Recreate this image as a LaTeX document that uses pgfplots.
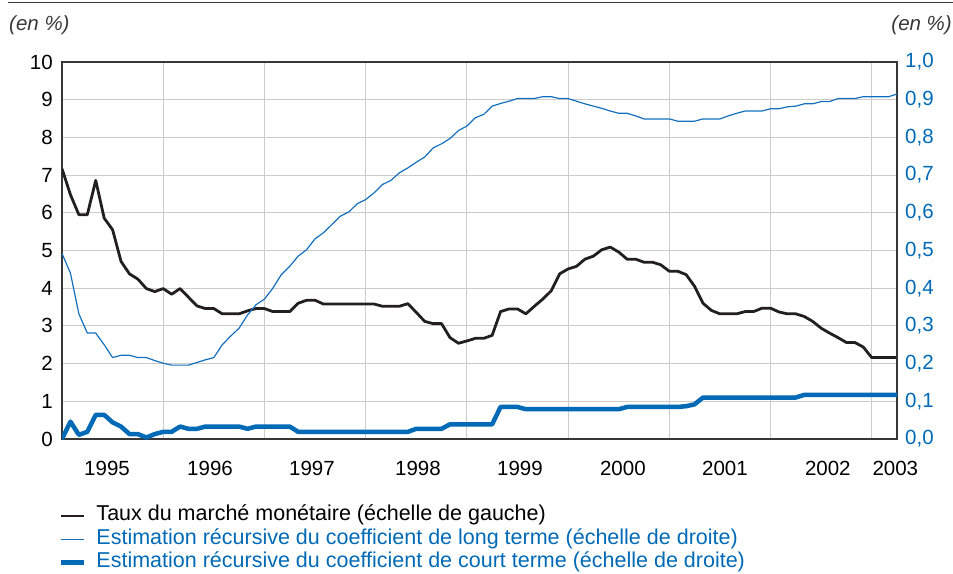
\documentclass[border=0pt]{standalone}
\usepackage{fontspec}
\setmainfont{Liberation Sans}
\usepackage{pgfplots}
\usepackage{pgfplotstable}
\pgfplotsset{compat=1.18}
\definecolor{cblack}{RGB}{35,31,32}
\definecolor{cblue}{RGB}{0,106,182}
\definecolor{cbluethin}{RGB}{20,112,188}
\definecolor{cgrid}{RGB}{204,204,204}
\definecolor{cframe}{RGB}{55,55,55}

\pgfplotstableread{
m v
0 7.17
1 6.48
2 5.95
3 5.95
4 6.86
5 5.86
6 5.55
7 4.71
8 4.38
9 4.24
10 3.99
11 3.91
12 3.99
13 3.84
14 3.99
15 3.76
16 3.53
17 3.46
18 3.46
19 3.32
20 3.32
21 3.32
22 3.40
23 3.46
24 3.46
25 3.38
26 3.38
27 3.38
28 3.60
29 3.68
30 3.68
31 3.58
32 3.58
33 3.58
34 3.58
35 3.58
36 3.58
37 3.58
38 3.52
39 3.52
40 3.52
41 3.59
42 3.36
43 3.12
44 3.06
45 3.06
46 2.69
47 2.54
48 2.60
49 2.67
50 2.67
51 2.75
52 3.38
53 3.45
54 3.45
55 3.32
56 3.52
57 3.71
58 3.93
59 4.38
60 4.51
61 4.58
62 4.77
63 4.85
64 5.02
65 5.09
66 4.96
67 4.77
68 4.77
69 4.69
70 4.69
71 4.62
72 4.45
73 4.45
74 4.36
75 4.05
76 3.60
77 3.41
78 3.32
79 3.32
80 3.32
81 3.38
82 3.38
83 3.47
84 3.47
85 3.37
86 3.32
87 3.32
88 3.25
89 3.12
90 2.94
91 2.81
92 2.69
93 2.56
94 2.56
95 2.44
96 2.16
97 2.16
98 2.16
99 2.16
}\taux

\pgfplotstableread{
m v
0 .492
1 .440
2 .332
3 .281
4 .281
5 .250
6 .216
7 .222
8 .222
9 .216
10 .216
11 .208
12 .201
13 .196
14 .196
15 .196
16 .203
17 .210
18 .216
19 .250
20 .273
21 .294
22 .329
23 .356
24 .371
25 .400
26 .436
27 .458
28 .485
29 .502
30 .531
31 .547
32 .569
33 .591
34 .602
35 .624
36 .635
37 .653
38 .675
39 .686
40 .706
41 .719
42 .734
43 .748
44 .772
45 .783
46 .797
47 .818
48 .830
49 .852
50 .861
51 .883
52 .890
53 .896
54 .903
55 .903
56 .903
57 .908
58 .908
59 .903
60 .903
61 .896
62 .889
63 .883
64 .877
65 .870
66 .864
67 .864
68 .857
69 .849
70 .849
71 .849
72 .849
73 .843
74 .843
75 .843
76 .849
77 .849
78 .849
79 .857
80 .864
81 .870
82 .870
83 .870
84 .876
85 .876
86 .881
87 .883
88 .889
89 .889
90 .895
91 .895
92 .903
93 .903
94 .903
95 .908
96 .908
97 .908
98 .908
99 .915
}\longterme

\pgfplotstableread{
m v
0 0.0
1 .046
2 .011
3 .019
4 .064
5 .064
6 .044
7 .033
8 .013
9 .013
10 .004
11 .013
12 .019
13 .019
14 .033
15 .027
16 .027
17 .033
18 .033
19 .033
20 .033
21 .033
22 .027
23 .033
24 .033
25 .033
26 .033
27 .033
28 .019
29 .019
30 .019
31 .019
32 .019
33 .019
34 .019
35 .019
36 .019
37 .019
38 .019
39 .019
40 .019
41 .019
42 .027
43 .027
44 .027
45 .027
46 .039
47 .039
48 .039
49 .039
50 .039
51 .039
52 .085
53 .085
54 .085
55 .079
56 .079
57 .079
58 .079
59 .079
60 .079
61 .079
62 .079
63 .079
64 .079
65 .079
66 .079
67 .085
68 .085
69 .085
70 .085
71 .085
72 .085
73 .085
74 .087
75 .092
76 .110
77 .110
78 .110
79 .110
80 .110
81 .110
82 .110
83 .110
84 .110
85 .110
86 .110
87 .110
88 .117
89 .117
90 .117
91 .117
92 .117
93 .117
94 .117
95 .117
96 .117
97 .117
98 .117
99 .117
}\courtterme

\begin{document}
\fontsize{20.5}{24}\selectfont
\begin{tikzpicture}
\useasboundingbox (0pt,0pt) rectangle (953pt,573pt);
\draw[line width=1pt, cframe] (8pt,570.5pt) -- (953pt,570.5pt);
\node[anchor=west, inner sep=0pt, font=\fontsize{20.5}{24}\selectfont\itshape, text=cframe] at (9pt,548pt) {(en \%)};
\node[anchor=east, inner sep=0pt, font=\fontsize{20.5}{24}\selectfont\itshape, text=cframe] at (952pt,548pt) {(en \%)};

\begin{axis}[
  at={(62pt,134pt)}, anchor=south west,
  scale only axis, width=835pt, height=377pt,
  xmin=0, xmax=99, ymin=0, ymax=10,
  axis line style={cframe, line width=1.3pt},
  ytick={0,1,2,3,4,5,6,7,8,9,10},
  ymajorgrids,
  grid style={cgrid, line width=1.1pt},
  xtick={5.34,17.55,29.64,42.2,54.3,66.5,78.6,90.8,98.8},
  xticklabels={1995,1996,1997,1998,1999,2000,2001,2002,2003},
  minor xtick={12,24,36,48,60,72,84,96},
  xminorgrids,
  minor grid style={cgrid, line width=1.1pt},
  major tick length=0pt, minor tick length=0pt,
  /pgf/number format/assume math mode=true,
  tick label style={font=\fontsize{20.5}{24}\selectfont},
  xticklabel style={anchor=center, inner sep=0pt, yshift=-29pt},
  yticklabel style={anchor=east, inner sep=0pt, xshift=-9pt},
]
\addplot[cblack, line width=2.8pt, line join=round] table[x=m, y=v] {\taux};
\end{axis}

\begin{axis}[
  at={(62pt,134pt)}, anchor=south west,
  scale only axis, width=835pt, height=377pt,
  xmin=0, xmax=99, ymin=0, ymax=1,
  axis x line=none, axis y line*=right,
  axis line style={cframe, line width=1.3pt},
  ytick={0,0.1,0.2,0.3,0.4,0.5,0.6,0.7,0.8,0.9,1},
  major tick length=0pt,
  /pgf/number format/assume math mode=true,
  tick label style={font=\fontsize{20.5}{24}\selectfont},
  yticklabel style={anchor=west, inner sep=0pt, xshift=8pt, text=cblue,
    /pgf/number format/.cd, fixed, fixed zerofill, precision=1, use comma},
  legend style={at={(axis description cs:-0.0036,-0.1777)}, anchor=north west,
    draw=none, fill=none, inner sep=0pt, outer sep=0pt,
    row sep=3.3pt, column sep=0pt,
    nodes={inner sep=0pt, text height=15pt, text depth=5pt},
    font=\fontsize{21.5}{24}\selectfont,
    /tikz/every odd column/.append style={column sep=10pt}},
  legend cell align=left,
  legend image code/.code={\draw[#1] (0pt,0pt) -- (23pt,0pt);},
]
\addlegendimage{cblack, line width=2.8pt}
\addlegendentry{Taux du marché monétaire (échelle de gauche)}
\addplot[cbluethin, line width=1.2pt, line join=round] table[x=m, y=v] {\longterme};
\addlegendentry{\textcolor{cblue}{Estimation récursive du coefficient de long terme (échelle de droite)}}
\addplot[cblue, line width=4.5pt, line join=round] table[x=m, y=v] {\courtterme};
\addlegendentry{\textcolor{cblue}{Estimation récursive du coefficient de court terme (échelle de droite)}}
\end{axis}
\end{tikzpicture}
\end{document}
